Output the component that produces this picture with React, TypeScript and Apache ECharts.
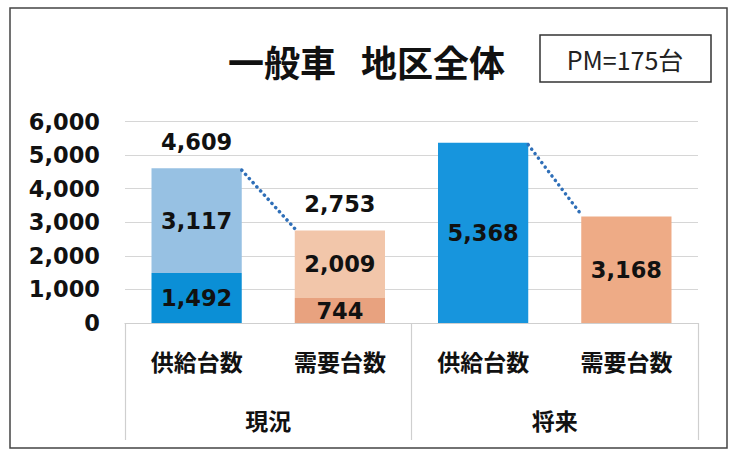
import React, { useEffect, useRef } from "react";
import * as echarts from "echarts";

const categories = ["供給台数", "需要台数", "供給台数", "需要台数"];
const groups = ["現況", "将来"];
const baseValues = [1492, 744, 5368, 3168];
const upperValues: (number | null)[] = [3117, 2009, null, null];
const totals: (number | null)[] = [4609, 2753, null, null];
const connectors = [
  [0, 4609, 1, 2753],
  [2, 5368, 3, 3168],
];
const yMax = 6000;
const yInterval = 1000;
const titleLeft = "一般車";
const titleRight = "地区全体";
const noteText = "PM=175台";

const baseColors = ["#0b8fd6", "#e8a27f", "#1795dd", "#eeab86"];
const upperColors = ["#97c1e3", "#f2c6aa", "#97c1e3", "#f2c6aa"];

const fmt = (v: number) => v.toLocaleString("en-US");
const NUM_FONT = "DejaVu Sans";
const JP_FONT = "Noto Sans CJK JP";
const BAR_FRAC = 0.63;

export default function App() {
  const ref = useRef<HTMLDivElement>(null);
  useEffect(() => {
    if (!ref.current) return;
    const chart = echarts.init(ref.current, undefined, { renderer: "svg" });
    const numLabel = {
      show: true,
      position: "inside",
      color: "#111",
      fontFamily: NUM_FONT,
      fontWeight: "bold",
      fontSize: 22.5,
      formatter: (p: any) => fmt(p.value),
    };
    const totalData = totals
      .map((v, i) => (v == null ? null : [i, v]))
      .filter((d) => d);
    chart.setOption({
      animation: false,
      backgroundColor: "#fff",
      grid: { left: 125, right: 32, top: 121.5, bottom: 130 },
      xAxis: [
        {
          type: "category",
          data: categories,
          axisLine: { show: true, lineStyle: { color: "#cfcfcf", width: 1.2 } },
          axisTick: { show: false },
          axisLabel: {
            margin: 26,
            color: "#111",
            fontFamily: JP_FONT,
            fontWeight: "bold",
            fontSize: 23,
            interval: 0,
          },
        },
        {
          type: "category",
          data: groups,
          position: "bottom",
          axisLine: { show: false },
          axisTick: { show: true, length: 117, lineStyle: { color: "#cfcfcf", width: 1.2 } },
          axisLabel: {
            margin: 85,
            color: "#111",
            fontFamily: JP_FONT,
            fontWeight: "bold",
            fontSize: 23,
            interval: 0,
          },
        },
      ],
      yAxis: {
        type: "value",
        min: 0,
        max: yMax,
        interval: yInterval,
        axisLine: { show: false },
        axisTick: { show: false },
        splitLine: { lineStyle: { color: "#d6d6d6", width: 1.2 } },
        axisLabel: {
          margin: 25,
          color: "#111",
          fontFamily: NUM_FONT,
          fontWeight: "bold",
          fontSize: 22.5,
          formatter: (v: number) => fmt(v),
        },
      },
      series: [
        {
          type: "bar",
          stack: "s",
          xAxisIndex: 0,
          barWidth: BAR_FRAC * 100 + "%",
          data: baseValues.map((v, i) => ({ value: v, itemStyle: { color: baseColors[i] } })),
          label: numLabel,
        },
        {
          type: "bar",
          stack: "s",
          xAxisIndex: 0,
          barWidth: BAR_FRAC * 100 + "%",
          data: upperValues.map((v, i) =>
            v == null ? "-" : { value: v, itemStyle: { color: upperColors[i] } }
          ),
          label: numLabel,
        },
        {
          type: "custom",
          xAxisIndex: 0,
          data: totalData,
          renderItem: (params: any, api: any) => {
            const p = api.coord([api.value(0), api.value(1)]);
            return {
              type: "text",
              style: {
                text: fmt(api.value(1)),
                x: p[0],
                y: p[1] - 15,
                align: "center",
                verticalAlign: "bottom",
                fill: "#111",
                fontFamily: NUM_FONT,
                fontWeight: "bold",
                fontSize: 22.5,
              },
            };
          },
          z: 5,
        },
        {
          type: "custom",
          xAxisIndex: 0,
          data: connectors,
          renderItem: (params: any, api: any) => {
            const p1 = api.coord([api.value(0), api.value(1)]);
            const p2 = api.coord([api.value(2), api.value(3)]);
            const band = api.size([1, 0])[0];
            const hw = (band * BAR_FRAC) / 2;
            return {
              type: "line",
              shape: { x1: p1[0] + hw, y1: p1[1] + 2, x2: p2[0] - hw, y2: p2[1] - 2 },
              style: {
                stroke: "#2f6fb8",
                lineWidth: 3.5,
                lineDash: [0.1, 5.5],
                lineCap: "round",
              },
            };
          },
          z: 6,
        },
      ],
      graphic: [
        {
          type: "rect",
          shape: { x: 10, y: 8, width: 717, height: 440 },
          style: { fill: "none", stroke: "#444", lineWidth: 1.5 },
          silent: true,
        },
        {
          type: "text",
          style: {
            text: titleLeft,
            x: 336,
            y: 61,
            align: "right",
            verticalAlign: "middle",
            fontFamily: JP_FONT,
            fontWeight: "bold",
            fontSize: 36,
            fill: "#111",
          },
        },
        {
          type: "text",
          style: {
            text: titleRight,
            x: 361,
            y: 61,
            align: "left",
            verticalAlign: "middle",
            fontFamily: JP_FONT,
            fontWeight: "bold",
            fontSize: 36,
            fill: "#111",
          },
        },
        {
          type: "rect",
          shape: { x: 540, y: 35, width: 171, height: 47 },
          style: { fill: "#fff", stroke: "#333", lineWidth: 1.5 },
        },
        {
          type: "text",
          style: {
            text: noteText,
            x: 625,
            y: 59,
            align: "center",
            verticalAlign: "middle",
            fontFamily: JP_FONT,
            fontWeight: "normal",
            fontSize: 25,
            fill: "#222",
          },
        },
      ],
    });
    return () => chart.dispose();
  }, []);
  return (
    <div
      ref={ref}
      style={{ position: "fixed", left: 0, top: 0, width: 730, height: 453 }}
    />
  );
}
